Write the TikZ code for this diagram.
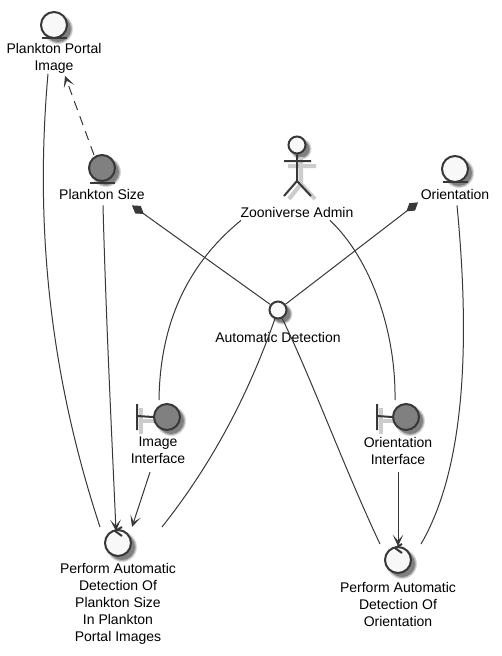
\documentclass[tikz,border=0pt]{standalone}
\usepackage{fontspec}
\setmainfont{Liberation Sans}
\usetikzlibrary{arrows.meta}
\definecolor{ink}{HTML}{383838}
\definecolor{pale}{HTML}{F8F8F8}
\definecolor{midgray}{HTML}{808080}
\newcommand{\softshadow}[3]{%
  \fill[black!14] ({#1+4},{#2+4}) circle[radius=#3+3];
  \fill[black!30] ({#1+4},{#2+4}) circle[radius=#3+2];
  \fill[black!50] ({#1+4},{#2+4}) circle[radius=#3+1];}
\tikzset{
  x=0.75pt,y=-0.75pt,
  lbl/.style={inner sep=0pt,align=center,font=\fontsize{10.5pt}{12.75pt}\selectfont,text=black},
  round/.style={circle,draw=ink,line width=1.5pt,fill=pale,inner sep=0pt,minimum size=#1*0.75pt+1.5pt},
  shapeline/.style={draw=ink,line width=1.5pt},
  edge/.style={draw=ink,line width=0.75pt},
  tip/.style={-{Stealth[length=8.5pt,width=8pt,inset=4.5pt]}},
  dia/.style={{Diamond[length=11pt,width=7pt]}-},
}
\begin{document}
\begin{tikzpicture}
\useasboundingbox (0,0) rectangle (501,656);
\fill[white] (0,0) rectangle (501,656);
% shadows
\softshadow{54}{25}{12}
\softshadow{102}{168}{12}
\softshadow{455}{169}{12}
\softshadow{297}{145}{7.5}
\softshadow{278}{310}{7.5}
\softshadow{167}{417}{12}
\softshadow{406}{417}{12}
\softshadow{118}{543}{12}
\softshadow{398}{560}{12}
\draw[black!20,line width=3pt] (301,157) -- (301,184) (288,166) -- (316,166)
  (301,184) -- (289,199) (301,184) -- (315,199);
\draw[black!20,line width=3pt] (141,408) -- (141,434) (141,421) -- (158,421);
\draw[black!20,line width=3pt] (381,408) -- (381,434) (381,421) -- (398,421);
% entities
\node[round=24] (ppi) at (54,25) {};
\draw[shapeline] (42,38) -- (67,38);
\node[lbl] (ppiL) at (54,58.5) {Plankton Portal\\Image};
\node[round=24,fill=midgray] (size) at (102,168) {};
\draw[shapeline] (90,183) -- (115,183);
\node[lbl] (sizeL) at (102,194) {Plankton Size};
\node[round=24] (orient) at (455,169) {};
\draw[shapeline] (443,182) -- (468,182);
\node[lbl] (orientL) at (455,194) {Orientation};
% actor
\node[round=15] (admin) at (297,145) {};
\draw[shapeline] (admin.south) -- (297,181) (284,161) -- (311,161)
  (297,181) -- (284,196) (297,181) -- (311,196);
\node[lbl] (adminL) at (297,212) {Zooniverse Admin};
% use case
\node[round=15] (auto) at (278,310) {};
\node[lbl] (autoL) at (278,337) {Automatic Detection};
% boundaries
\node[round=24,fill=midgray] (imgif) at (167,417) {};
\draw[shapeline] (137,404) -- (137,430) (137,416) -- (imgif.west);
\node[lbl] (imgifL) at (158,450.5) {Image\\Interface};
\node[round=24,fill=midgray] (orif) at (406,417) {};
\draw[shapeline] (377,404) -- (377,430) (377,416) -- (orif.west);
\node[lbl] (orifL) at (398,450.5) {Orientation\\Interface};
% controls
\node[round=24] (ctlA) at (118,543) {};
\draw[shapeline] (122,527) -- (115,531) -- (122,536);
\node[lbl] (ctlAL) at (118,604) {Perform Automatic\\Detection Of\\Plankton Size\\In Plankton\\Portal Images};
\node[round=24] (ctlB) at (398,560) {};
\draw[shapeline] (402,544) -- (395,548) -- (402,553);
\node[lbl] (ctlBL) at (398,604) {Perform Automatic\\Detection Of\\Orientation};
% connectors
\draw[edge] ([shift={(-6,0)}]ppiL.south) .. controls (36,210) and (45,360) .. ([shift={(-18,-16)}]ctlA.center);
\draw[edge,dashed,dash pattern=on 7pt off 5pt,tip] ([shift={(-8,-13)}]size.center) -- ([shift={(11,2)}]ppiL.south);
\draw[edge,tip] ([shift={(1,6)}]sizeL.south) .. controls (106,320) and (112,440) .. ([shift={(-2,-12)}]ctlA.center);
\draw[edge,dia] ([shift={(30,6)}]sizeL.south) -- (auto);
\draw[edge,dia] ([shift={(-37,3)}]orientL.south) -- (auto);
\draw[edge] ([shift={(-56,3)}]adminL.south) .. controls (190,262) and (160,320) .. ([shift={(-8,-17)}]imgif.center);
\draw[edge] ([shift={(33,3)}]adminL.south) .. controls (370,258) and (396,330) .. ([shift={(-11,-17)}]orif.center);
\draw[edge] ([shift={(2,6)}]orientL.south) .. controls (468,320) and (470,460) .. ([shift={(23,-16)}]ctlB.center);
\draw[edge,tip] ([shift={(-8,8)}]imgifL.south) -- ([shift={(14,-16)}]ctlA.center);
\draw[edge,tip] ([shift={(0,8)}]orifL.south) -- ([shift={(0,-14)}]ctlB.center);
\draw[edge] (auto) .. controls (250,390) and (215,460) .. ([shift={(44,-16)}]ctlA.center);
\draw[edge] (auto) .. controls (310,375) and (345,470) .. ([shift={(-18,-16)}]ctlB.center);
\end{tikzpicture}
\end{document}
